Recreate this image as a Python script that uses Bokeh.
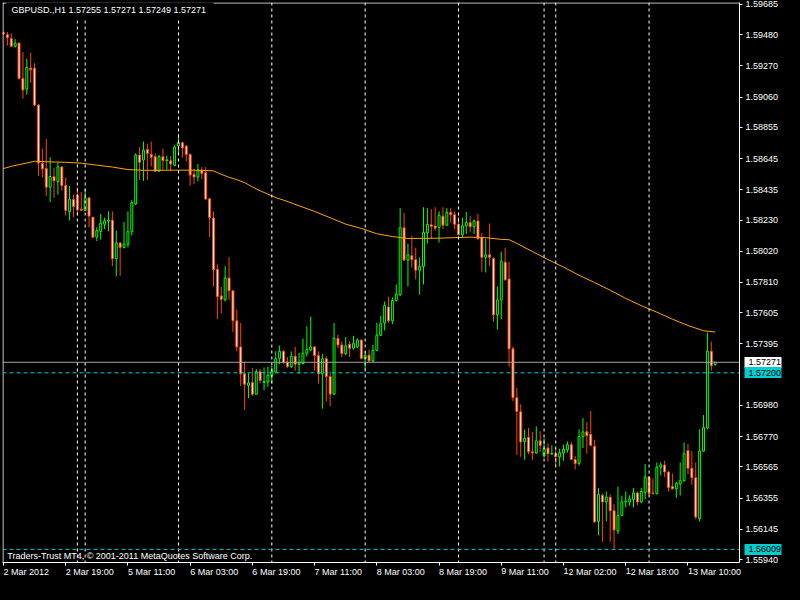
from bokeh.plotting import figure
from bokeh.models import (Range1d, FixedTicker, PrintfTickFormatter, Span, Label, LinearAxis,
                          ColumnDataSource, GlobalInlineStyleSheet)
from bokeh.embed import file_html
from bokeh.resources import INLINE

header_text = "GBPUSD.,H1  1.57255 1.57271 1.57249 1.57271"
copyright_text = "Traders-Trust MT4, \u00a9 2001-2011 MetaQuotes Software Corp."

# H1 bars, GBPUSD, 2 Mar 2012 03:00 .. 13 Mar 2012 13:00 (OHLC)
opens = [1.59494, 1.59481, 1.59455, 1.59403, 1.59424, 1.59186, 1.59114, 1.59255, 1.59255, 1.59006,
         1.58613, 1.58578, 1.58452, 1.58524, 1.58491, 1.58589, 1.58463, 1.58287, 1.58369, 1.58398,
         1.58304, 1.58296, 1.58380, 1.58250, 1.58115, 1.58154, 1.58202, 1.58222, 1.58230, 1.57970,
         1.58076, 1.58046, 1.58068, 1.58152, 1.58339, 1.58669, 1.58636, 1.58706, 1.58673, 1.58658,
         1.58560, 1.58658, 1.58632, 1.58630, 1.58599, 1.58730, 1.58752, 1.58730, 1.58673, 1.58539,
         1.58521, 1.58567, 1.58550, 1.58374, 1.58244, 1.57898, 1.57718, 1.57692, 1.57840, 1.57753,
         1.57551, 1.57375, 1.57193, 1.57115, 1.57134, 1.57056, 1.57208, 1.57136, 1.57138, 1.57180,
         1.57204, 1.57297, 1.57345, 1.57273, 1.57243, 1.57312, 1.57258, 1.57262, 1.57332, 1.57353,
         1.57375, 1.57317, 1.57193, 1.57295, 1.57175, 1.57056, 1.57432, 1.57388, 1.57330, 1.57393,
         1.57366, 1.57375, 1.57421, 1.57297, 1.57319, 1.57280, 1.57351, 1.57453, 1.57536, 1.57644,
         1.57551, 1.57688, 1.57727, 1.58178, 1.57961, 1.57990, 1.57963, 1.57892, 1.57918, 1.58144,
         1.58198, 1.58191, 1.58181, 1.58257, 1.58196, 1.58283, 1.58267, 1.58202, 1.58131, 1.58191,
         1.58213, 1.58185, 1.58224, 1.58111, 1.57979, 1.57996, 1.57970, 1.57592, 1.57692, 1.57946,
         1.57833, 1.57362, 1.57032, 1.56937, 1.56737, 1.56765, 1.56667, 1.56659, 1.56741, 1.56639,
         1.56693, 1.56652, 1.56654, 1.56633, 1.56659, 1.56680, 1.56715, 1.56615, 1.56589, 1.56769,
         1.56802, 1.56785, 1.56704, 1.56198, 1.56374, 1.56329, 1.56361, 1.56270, 1.56133, 1.56238,
         1.56329, 1.56329, 1.56346, 1.56390, 1.56329, 1.56394, 1.56498, 1.56390, 1.56385, 1.56563,
         1.56578, 1.56531, 1.56433, 1.56418, 1.56450, 1.56472, 1.56676, 1.56557, 1.56492, 1.56216,
         1.56672, 1.56828, 1.57345, 1.57255]
highs = [1.59503, 1.59498, 1.59490, 1.59451, 1.59429, 1.59364, 1.59320, 1.59359, 1.59288, 1.59012,
         1.58712, 1.58778, 1.58654, 1.58582, 1.58619, 1.58593, 1.58517, 1.58461, 1.58402, 1.58452,
         1.58419, 1.58441, 1.58387, 1.58252, 1.58181, 1.58272, 1.58246, 1.58289, 1.58289, 1.58159,
         1.58083, 1.58217, 1.58289, 1.58365, 1.58680, 1.58723, 1.58760, 1.58745, 1.58760, 1.58680,
         1.58669, 1.58712, 1.58665, 1.58662, 1.58734, 1.58810, 1.58760, 1.58734, 1.58680, 1.58578,
         1.58608, 1.58587, 1.58587, 1.58376, 1.58289, 1.57931, 1.57779, 1.57920, 1.57979, 1.57757,
         1.57627, 1.57536, 1.57275, 1.57197, 1.57232, 1.57225, 1.57225, 1.57236, 1.57241, 1.57247,
         1.57345, 1.57384, 1.57351, 1.57306, 1.57345, 1.57377, 1.57334, 1.57432, 1.57514, 1.57579,
         1.57379, 1.57345, 1.57327, 1.57312, 1.57210, 1.57536, 1.57458, 1.57410, 1.57442, 1.57414,
         1.57449, 1.57432, 1.57427, 1.57345, 1.57356, 1.57388, 1.57536, 1.57584, 1.57681, 1.57714,
         1.57709, 1.57796, 1.58311, 1.58278, 1.58072, 1.58126, 1.58044, 1.57979, 1.58317, 1.58311,
         1.58304, 1.58317, 1.58289, 1.58317, 1.58311, 1.58311, 1.58289, 1.58250, 1.58246, 1.58285,
         1.58257, 1.58235, 1.58274, 1.58142, 1.58105, 1.58207, 1.57979, 1.57783, 1.58018, 1.58044,
         1.57948, 1.57377, 1.57099, 1.56987, 1.56817, 1.56828, 1.56802, 1.56839, 1.56806, 1.56759,
         1.56724, 1.56711, 1.56693, 1.56689, 1.56715, 1.56737, 1.56733, 1.56639, 1.56819, 1.56895,
         1.56867, 1.56943, 1.56748, 1.56422, 1.56383, 1.56400, 1.56379, 1.56314, 1.56433, 1.56372,
         1.56400, 1.56374, 1.56422, 1.56400, 1.56422, 1.56585, 1.56502, 1.56487, 1.56596, 1.56596,
         1.56607, 1.56537, 1.56520, 1.56466, 1.56596, 1.56730, 1.56720, 1.56672, 1.56596, 1.56819,
         1.56915, 1.57471, 1.57410, 1.57271]
lows = [1.59479, 1.59407, 1.59396, 1.59394, 1.59179, 1.59049, 1.59077, 1.59157, 1.58999, 1.58528,
        1.58517, 1.58391, 1.58352, 1.58380, 1.58402, 1.58430, 1.58261, 1.58228, 1.58250, 1.58261,
        1.58291, 1.58291, 1.58181, 1.58109, 1.58089, 1.58098, 1.58170, 1.58154, 1.57920, 1.57851,
        1.57855, 1.58039, 1.58046, 1.58126, 1.58332, 1.58500, 1.58495, 1.58500, 1.58593, 1.58556,
        1.58556, 1.58571, 1.58571, 1.58565, 1.58593, 1.58680, 1.58652, 1.58626, 1.58463, 1.58474,
        1.58491, 1.58506, 1.58365, 1.58115, 1.57783, 1.57562, 1.57601, 1.57681, 1.57692, 1.57475,
        1.57345, 1.57110, 1.56950, 1.57030, 1.57045, 1.57052, 1.57128, 1.57084, 1.57106, 1.57128,
        1.57197, 1.57258, 1.57262, 1.57232, 1.57232, 1.57214, 1.57193, 1.57258, 1.57310, 1.57349,
        1.57214, 1.57128, 1.56958, 1.57008, 1.56976, 1.57052, 1.57366, 1.57306, 1.57319, 1.57306,
        1.57356, 1.57366, 1.57290, 1.57221, 1.57275, 1.57269, 1.57349, 1.57449, 1.57486, 1.57536,
        1.57529, 1.57681, 1.57718, 1.57953, 1.57783, 1.57909, 1.57831, 1.57727, 1.57796, 1.58072,
        1.58105, 1.58159, 1.58079, 1.58170, 1.58191, 1.58213, 1.58170, 1.58126, 1.58115, 1.58137,
        1.58148, 1.58137, 1.58094, 1.57881, 1.57877, 1.57920, 1.57544, 1.57492, 1.57562, 1.57822,
        1.57241, 1.57008, 1.56646, 1.56633, 1.56613, 1.56650, 1.56611, 1.56654, 1.56667, 1.56628,
        1.56602, 1.56646, 1.56574, 1.56568, 1.56607, 1.56661, 1.56611, 1.56548, 1.56574, 1.56693,
        1.56654, 1.56704, 1.56190, 1.56103, 1.56060, 1.56198, 1.56060, 1.56012, 1.56112, 1.56233,
        1.56292, 1.56303, 1.56292, 1.56307, 1.56320, 1.56346, 1.56372, 1.56379, 1.56379, 1.56509,
        1.56498, 1.56400, 1.56411, 1.56357, 1.56372, 1.56466, 1.56515, 1.56444, 1.56212, 1.56198,
        1.56667, 1.56819, 1.57215, 1.57249]
closes = [1.59487, 1.59461, 1.59403, 1.59424, 1.59186, 1.59108, 1.59260, 1.59244, 1.59006, 1.58615,
          1.58576, 1.58452, 1.58524, 1.58495, 1.58589, 1.58463, 1.58296, 1.58369, 1.58322, 1.58300,
          1.58296, 1.58380, 1.58257, 1.58115, 1.58159, 1.58209, 1.58224, 1.58230, 1.57970, 1.58076,
          1.58046, 1.58068, 1.58152, 1.58348, 1.58669, 1.58621, 1.58702, 1.58680, 1.58654, 1.58560,
          1.58658, 1.58632, 1.58636, 1.58608, 1.58723, 1.58752, 1.58717, 1.58673, 1.58534, 1.58521,
          1.58569, 1.58545, 1.58372, 1.58248, 1.57896, 1.57714, 1.57696, 1.57840, 1.57753, 1.57551,
          1.57375, 1.57193, 1.57123, 1.57132, 1.57056, 1.57208, 1.57149, 1.57141, 1.57182, 1.57214,
          1.57295, 1.57345, 1.57269, 1.57243, 1.57312, 1.57258, 1.57267, 1.57332, 1.57358, 1.57375,
          1.57317, 1.57193, 1.57295, 1.57175, 1.57056, 1.57432, 1.57388, 1.57330, 1.57382, 1.57366,
          1.57397, 1.57421, 1.57297, 1.57319, 1.57280, 1.57351, 1.57453, 1.57531, 1.57653, 1.57551,
          1.57688, 1.57731, 1.58178, 1.57961, 1.57996, 1.57963, 1.57892, 1.57918, 1.58148, 1.58202,
          1.58187, 1.58176, 1.58263, 1.58196, 1.58283, 1.58267, 1.58202, 1.58131, 1.58191, 1.58213,
          1.58185, 1.58224, 1.58105, 1.57979, 1.57996, 1.57979, 1.57592, 1.57692, 1.57953, 1.57827,
          1.57362, 1.57032, 1.56939, 1.56733, 1.56759, 1.56667, 1.56659, 1.56741, 1.56711, 1.56689,
          1.56654, 1.56656, 1.56633, 1.56661, 1.56683, 1.56715, 1.56615, 1.56589, 1.56769, 1.56802,
          1.56776, 1.56711, 1.56194, 1.56379, 1.56329, 1.56361, 1.56270, 1.56140, 1.56238, 1.56329,
          1.56335, 1.56350, 1.56390, 1.56329, 1.56400, 1.56498, 1.56385, 1.56385, 1.56563, 1.56578,
          1.56531, 1.56426, 1.56418, 1.56455, 1.56472, 1.56654, 1.56557, 1.56492, 1.56227, 1.56672,
          1.56830, 1.57345, 1.57247, 1.57271]

# moving average (orange line), sampled at these bars
ma_bars = [0, 2, 4, 8, 12, 16, 20, 24, 28, 32, 36, 40, 44, 48, 52, 54, 56, 58, 60, 62, 64, 66, 68,
           70, 72, 76, 80, 84, 88, 92, 96, 100, 104, 108, 112, 116, 120, 124, 128, 130, 132, 136,
           140, 144, 148, 152, 156, 160, 164, 168, 172, 176, 180, 183]
ma_vals = [1.58578, 1.58593, 1.58604, 1.58627, 1.58623, 1.58620, 1.58614, 1.58601, 1.58588, 1.58571,
           1.58566, 1.58566, 1.58567, 1.58567, 1.58565, 1.58562, 1.58539, 1.58519, 1.58503, 1.58483,
           1.58454, 1.58428, 1.58405, 1.58382, 1.58365, 1.58327, 1.58289, 1.58246, 1.58203, 1.58174,
           1.58138, 1.58119, 1.58106, 1.58107, 1.58108, 1.58112, 1.58115, 1.58112, 1.58100, 1.58098,
           1.58073, 1.58018, 1.57964, 1.57913, 1.57858, 1.57809, 1.57757, 1.57702, 1.57653, 1.57609,
           1.57562, 1.57519, 1.57484, 1.57475]

# day separators (first bar of each new day)
separator_bars = [19, 21, 45, 69, 93, 117, 139, 142, 166]

# time axis labels
time_tick_bars = [0, 16, 32, 48, 64, 80, 96, 112, 128, 144, 160, 176]
time_tick_labels = ["2 Mar 2012", "2 Mar 19:00", "5 Mar 11:00", "6 Mar 03:00", "6 Mar 19:00",
                    "7 Mar 11:00", "8 Mar 03:00", "8 Mar 19:00", "9 Mar 11:00", "12 Mar 02:00",
                    "12 Mar 18:00", "13 Mar 10:00"]

# price axis labels
price_ticks = [1.59685, 1.59480, 1.59270, 1.59060, 1.58855, 1.58645, 1.58435, 1.58230, 1.58020,
               1.57810, 1.57605, 1.57395, 1.56980, 1.56770, 1.56565, 1.56355, 1.56145, 1.55940]

bid_price = 1.57271
level_prices = [1.57200, 1.56009]

FONT = "Liberation Sans"
FS = "9px"
BULL = "#00FF00"
BEAR = "#FF4500"
CYAN = "#00CED1"

X0, X1 = -0.25, 189.25
Y0, Y1 = 1.559205, 1.59698

bars = list(range(len(opens)))
is_bull = [c >= o for o, c in zip(opens, closes)]
src = ColumnDataSource(dict(
    x=bars,
    top=[max(o, c) for o, c in zip(opens, closes)],
    bottom=[min(o, c) for o, c in zip(opens, closes)],
    high=highs, low=lows,
    line_color=[BULL if b else BEAR for b in is_bull],
    fill_color=["black" if b else "white" for b in is_bull],
))

p = figure(width=784, height=584, output_backend="svg", toolbar_location=None,
           x_range=Range1d(X0, X1), y_range=Range1d(Y0, Y1),
           y_axis_location="right", min_border_left=2, min_border_top=2,
           min_border_right=0, min_border_bottom=0,
           background_fill_color="black", border_fill_color="black",
           outline_line_color=None)
p.stylesheets = [GlobalInlineStyleSheet(css="html, body { background: #000000; }")]
p.xgrid.visible = False
p.ygrid.visible = False

# chart frame (left and top edges; right and bottom are the axis lines)
p.add_layout(Span(location=X0 + 0.13, dimension="height", line_color="white", line_width=1))
p.add_layout(Span(location=Y1 - 0.00003, dimension="width", line_color="white", line_width=1))

for b in separator_bars:
    p.add_layout(Span(location=b, dimension="height", line_color="white",
                      line_dash="3 3", line_width=1))

p.add_layout(Span(location=bid_price, dimension="width", line_color="#A0A0A8", line_width=1))
for lv in level_prices:
    p.add_layout(Span(location=lv, dimension="width", line_color=CYAN,
                      line_dash="4 3", line_width=1))

p.segment(x0="x", y0="low", x1="x", y1="high", line_color="line_color", line_width=1, source=src)
p.vbar(x="x", top="top", bottom="bottom", width=0.5, fill_color="fill_color",
       line_color="line_color", line_width=1, source=src)

p.line(ma_bars, ma_vals, line_color="#FFA500", line_width=1)

# price axis
ya = p.yaxis[0]
ya.ticker = FixedTicker(ticks=price_ticks)
ya.formatter = PrintfTickFormatter(format="%.5f")
ya.axis_line_color = "white"
ya.major_tick_line_color = "white"
ya.major_tick_in = 0
ya.major_tick_out = 3
ya.minor_tick_line_color = None
ya.major_label_standoff = 3
ya.major_label_text_color = "white"
ya.major_label_text_font = FONT
ya.major_label_text_font_size = FS

# coloured price boxes on the price scale (thick inward ticks of extra axes)
def box_axis(prices, color):
    ax = LinearAxis(ticker=FixedTicker(ticks=prices), axis_line_color=None,
                    major_tick_in=37, major_tick_out=0, major_tick_line_width=11,
                    major_tick_line_color=color, minor_tick_line_color=None,
                    major_label_standoff=0, major_label_text_font_size="0px",
                    major_label_overrides={v: "" for v in prices})
    p.add_layout(ax, "right")

box_axis([bid_price], "white")
box_axis(level_prices, CYAN)

box_text_prices = [bid_price] + level_prices
box_labels = LinearAxis(ticker=FixedTicker(ticks=box_text_prices),
                        formatter=PrintfTickFormatter(format="%.5f"),
                        axis_line_color=None, major_tick_in=0, major_tick_out=0,
                        minor_tick_line_color=None, major_label_standoff=-33,
                        major_label_text_color="black", major_label_text_font=FONT,
                        major_label_text_font_size=FS)
p.add_layout(box_labels, "right")

# time axis
xa = p.xaxis[0]
xa.ticker = FixedTicker(ticks=time_tick_bars)
xa.major_label_overrides = {b: t for b, t in zip(time_tick_bars, time_tick_labels)}
xa.axis_line_color = "white"
xa.major_tick_line_color = "white"
xa.major_tick_in = 0
xa.major_tick_out = 3
xa.minor_tick_line_color = None
xa.major_label_standoff = 6
xa.major_label_orientation = -0.0001
xa.major_label_text_color = "white"
xa.major_label_text_font = FONT
xa.major_label_text_font_size = FS

# header (drawn on a black box that hides the frame behind it) and copyright
p.add_layout(Label(x=0.75, y=1.59646, text=header_text, text_font=FONT, text_font_size=FS,
                   text_color="white", text_baseline="middle", text_align="left",
                   background_fill_color="black", padding=5))
p.add_layout(Label(x=1.0, y=1.55966, text=copyright_text, text_font=FONT, text_font_size=FS,
                   text_color="white", text_baseline="middle", text_align="left"))

open("out.html", "w").write(file_html(p, INLINE))
